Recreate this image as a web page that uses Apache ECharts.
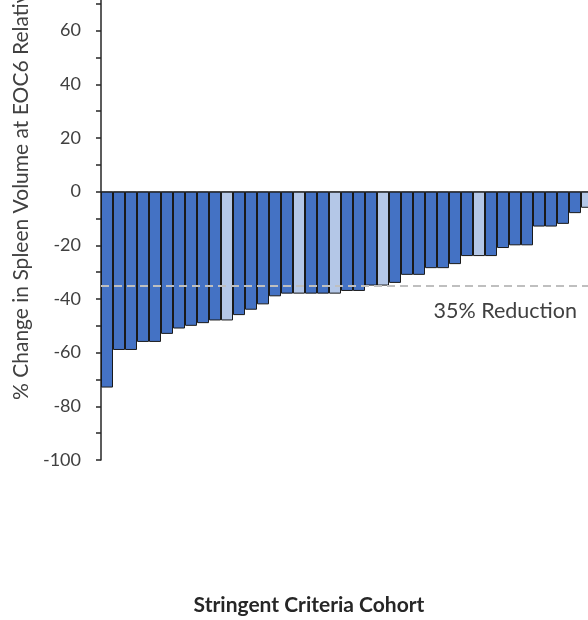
<!DOCTYPE html>
<html>
<head>
<meta charset="utf-8">
<style>
  html, body { margin: 0; padding: 0; background: #fff; overflow: hidden; }
  /* the chart is a bit bigger than the window: the original figure is cropped at the top and right */
  #chart { width: 593px; height: 643px; margin-top: -23px; }
</style>
<script src="https://cdn.jsdelivr.net/npm/echarts@6/dist/echarts.min.js"></script>
</head>
<body>
<div id="chart"></div>
<script>
// % change in spleen volume, one bar per patient (waterfall, sorted)
var changeValues = [
  -73, -59, -59, -56, -56, -53, -51, -50, -49, -48,
  -48, -46, -44, -42, -39, -38, -38, -38, -38, -38,
  -37, -37, -35, -35, -34, -31, -31, -28.5, -28.5, -27,
  -24, -24, -24, -21, -20, -20, -13, -13, -12, -8,
  -6
];
// bars drawn in the light shade (1-based patient number)
var lightPatients = [11, 17, 20, 24, 32, 41];
var patients = changeValues.map(function (v, i) { return "P" + (i + 1); });
var yTicks = [-100, 80, 20];   // min, max, step
var reductionLine = -35;

var FONT = "Lato";
var DARK = "#4472C4";
var LIGHT = "#B4C7E7";

var myChart = echarts.init(document.getElementById("chart"));

var barData = changeValues.map(function (v, i) {
  var light = lightPatients.indexOf(i + 1) >= 0;
  return {
    value: v,
    itemStyle: { color: light ? LIGHT : DARK }
  };
});

var option = {
  animation: false,
  backgroundColor: "#fff",
  grid: {
    left: 101,
    right: 0,
    top: 0,
    bottom: 160,
    outerBoundsMode: "none"
  },
  xAxis: {
    type: "category",
    data: patients,
    axisLine: { onZero: true, lineStyle: { color: "#262626", width: 1.5 } },
    axisTick: { show: false },
    axisLabel: { show: false },
    splitLine: { show: false }
  },
  yAxis: {
    type: "value",
    min: yTicks[0],
    max: yTicks[1],
    interval: yTicks[2],
    axisLine: { show: true, lineStyle: { color: "#262626", width: 1.5 } },
    axisTick: { show: true, length: 5, lineStyle: { color: "#262626", width: 1.5 } },
    minorTick: { show: true, splitNumber: 2, length: 5, lineStyle: { color: "#262626", width: 1.5 } },
    axisLabel: {
      color: "#404040",
      fontFamily: FONT,
      fontSize: 18,
      margin: 20
    },
    splitLine: { show: false }
  },
  series: [
    {
      type: "bar",
      data: barData,
      barCategoryGap: "0%",
      itemStyle: { borderColor: "#1a1a1a", borderWidth: 1 },
      markLine: {
        silent: true,
        symbol: "none",
        lineStyle: { color: "#bfbfbf", type: [8, 5], width: 2 },
        label: {
          show: true,
          position: "insideEndBottom",
          distance: [16, 14],
          formatter: "35% Reduction",
          color: "#404040",
          fontFamily: FONT,
          fontSize: 21.5
        },
        data: [{ yAxis: reductionLine }]
      }
    }
  ],
  graphic: [
    {
      type: "text",
      x: 21,
      y: 423,
      rotation: Math.PI / 2,
      style: {
        text: "% Change in Spleen Volume at EOC6 Relative to Baseline",
        fill: "#404040",
        font: "21px " + FONT,
        align: "left",
        verticalAlign: "middle",
        textAlign: "left",
        textVerticalAlign: "middle"
      }
    },
    {
      type: "text",
      x: 309,
      y: 628,
      style: {
        text: "Stringent Criteria Cohort",
        fill: "#262626",
        font: "bold 21px " + FONT,
        align: "center",
        verticalAlign: "middle",
        textAlign: "center",
        textVerticalAlign: "middle"
      }
    }
  ]
};

myChart.setOption(option);
</script>
</body>
</html>
